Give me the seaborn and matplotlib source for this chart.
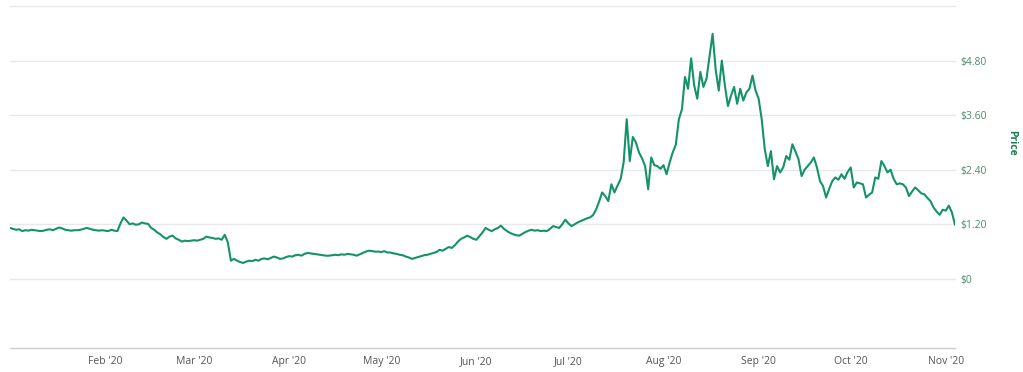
import numpy as np
import pandas as pd
import matplotlib
matplotlib.use("Agg")
import matplotlib.pyplot as plt
import matplotlib.dates as mdates
import seaborn as sns

# daily closing price, Jan 1 2020 .. Nov 4 2020
START_DATE = "2020-01-01"
PRICES = [
    1.12, 1.10, 1.08, 1.09, 1.05, 1.07, 1.06, 1.08, 1.07, 1.06,
    1.05, 1.06, 1.08, 1.09, 1.07, 1.10, 1.13, 1.11, 1.08, 1.07,
    1.06, 1.07, 1.07, 1.08, 1.10, 1.12, 1.10, 1.08, 1.07, 1.06,
    1.07, 1.06, 1.05, 1.08, 1.06, 1.05, 1.22, 1.35, 1.28, 1.20,
    1.22, 1.19, 1.20, 1.24, 1.22, 1.21, 1.12, 1.08, 1.02, 0.98,
    0.92, 0.88, 0.93, 0.95, 0.89, 0.86, 0.82, 0.84, 0.83, 0.84,
    0.85, 0.84, 0.86, 0.88, 0.93, 0.91, 0.90, 0.88, 0.89, 0.86,
    0.97, 0.80, 0.40, 0.44, 0.40, 0.37, 0.35, 0.38, 0.40, 0.39,
    0.42, 0.40, 0.44, 0.45, 0.43, 0.46, 0.49, 0.47, 0.44, 0.45,
    0.48, 0.50, 0.49, 0.52, 0.53, 0.51, 0.55, 0.57, 0.56, 0.55,
    0.54, 0.53, 0.52, 0.51, 0.51, 0.52, 0.53, 0.52, 0.54, 0.53,
    0.55, 0.54, 0.53, 0.51, 0.54, 0.57, 0.60, 0.62, 0.61, 0.60,
    0.60, 0.59, 0.61, 0.58, 0.58, 0.56, 0.55, 0.53, 0.52, 0.49,
    0.47, 0.44, 0.46, 0.48, 0.50, 0.52, 0.53, 0.55, 0.57, 0.59,
    0.64, 0.62, 0.66, 0.70, 0.68, 0.74, 0.82, 0.88, 0.91, 0.95,
    0.92, 0.88, 0.86, 0.94, 1.02, 1.12, 1.08, 1.05, 1.09, 1.12,
    1.17, 1.10, 1.05, 1.01, 0.98, 0.96, 0.95, 0.99, 1.03, 1.06,
    1.08, 1.06, 1.07, 1.05, 1.06, 1.05, 1.10, 1.16, 1.14, 1.12,
    1.20, 1.30, 1.22, 1.16, 1.20, 1.24, 1.27, 1.30, 1.33, 1.35,
    1.40, 1.52, 1.70, 1.90, 1.82, 1.71, 2.08, 1.90, 2.05, 2.19,
    2.56, 3.51, 2.59, 3.12, 3.00, 2.78, 2.65, 2.48, 1.97, 2.67,
    2.50, 2.48, 2.42, 2.50, 2.30, 2.56, 2.78, 2.95, 3.51, 3.73,
    4.44, 4.18, 4.85, 4.25, 3.96, 4.55, 4.22, 4.40, 4.90, 5.39,
    4.60, 4.14, 4.80, 4.25, 3.80, 4.03, 4.22, 3.85, 4.18, 3.92,
    4.10, 4.18, 4.47, 4.14, 3.96, 3.51, 2.85, 2.48, 2.81, 2.19,
    2.48, 2.34, 2.45, 2.70, 2.62, 2.96, 2.80, 2.63, 2.26, 2.40,
    2.48, 2.56, 2.67, 2.45, 2.15, 2.04, 1.79, 1.98, 2.15, 2.23,
    2.18, 2.30, 2.20, 2.35, 2.45, 2.01, 2.12, 2.10, 2.08, 1.79,
    1.85, 1.90, 2.23, 2.20, 2.59, 2.48, 2.34, 2.40, 2.20, 2.08,
    2.10, 2.08, 2.01, 1.82, 1.92, 2.01, 1.95, 1.88, 1.86, 1.78,
    1.71, 1.57, 1.48, 1.41, 1.52, 1.50, 1.61, 1.46, 1.19,
]

Y_TICKS = [0, 1.2, 2.4, 3.6, 4.8]
Y_TICK_LABELS = ["$0", "$1.20", "$2.40", "$3.60", "$4.80"]
GRID_LEVELS = [0, 1.2, 2.4, 3.6, 4.8, 6.0]
MONTH_TICKS = pd.date_range("2020-02-01", "2020-11-01", freq="MS")

LINE_COLOR = "#14936a"

df = pd.DataFrame({
    "date": pd.date_range(START_DATE, periods=len(PRICES), freq="D"),
    "price": PRICES,
})

sns.set_theme(style="white")
plt.rcParams["font.family"] = ["Open Sans", "DejaVu Sans"]

fig = plt.figure(figsize=(10.23, 3.72), dpi=100)
ax = fig.add_axes([10 / 1023, 1 - 348 / 372, 945 / 1023, 342 / 372])

# light horizontal gridlines, top one sits on the axes edge
for lvl in GRID_LEVELS:
    ax.axhline(lvl, color="#e8e8e8", lw=1.0, zorder=0, clip_on=False)

sns.lineplot(data=df, x="date", y="price", ax=ax, color=LINE_COLOR, lw=1.5)

ax.set_xlim(df["date"].iloc[0], df["date"].iloc[-1])
ax.set_ylim(-1.52, 6.0)

ax.set_xticks(MONTH_TICKS)
ax.xaxis.set_major_formatter(mdates.DateFormatter("%b '%y"))
ax.tick_params(axis="x", direction="inout", length=6, width=0.8, color="#c8c8c8",
               labelsize=7.5, labelcolor="#555555", pad=3)

ax.yaxis.tick_right()
ax.set_yticks(Y_TICKS)
ax.set_yticklabels(Y_TICK_LABELS)
ax.tick_params(axis="y", length=0, labelsize=7.5, labelcolor="#4a8f6c", pad=4)
ax.set_xlabel("")
ax.set_ylabel("")

for side in ["top", "left", "right"]:
    ax.spines[side].set_visible(False)
ax.spines["bottom"].set_color("#cfcfcf")
ax.spines["bottom"].set_linewidth(1.0)

fig.text(1012 / 1023, 1 - 143 / 372, "Price", rotation=270, ha="center", va="center",
         fontsize=7.5, fontweight="bold", color="#1f7a52")

fig.savefig("out.png", dpi=100, facecolor="white")
